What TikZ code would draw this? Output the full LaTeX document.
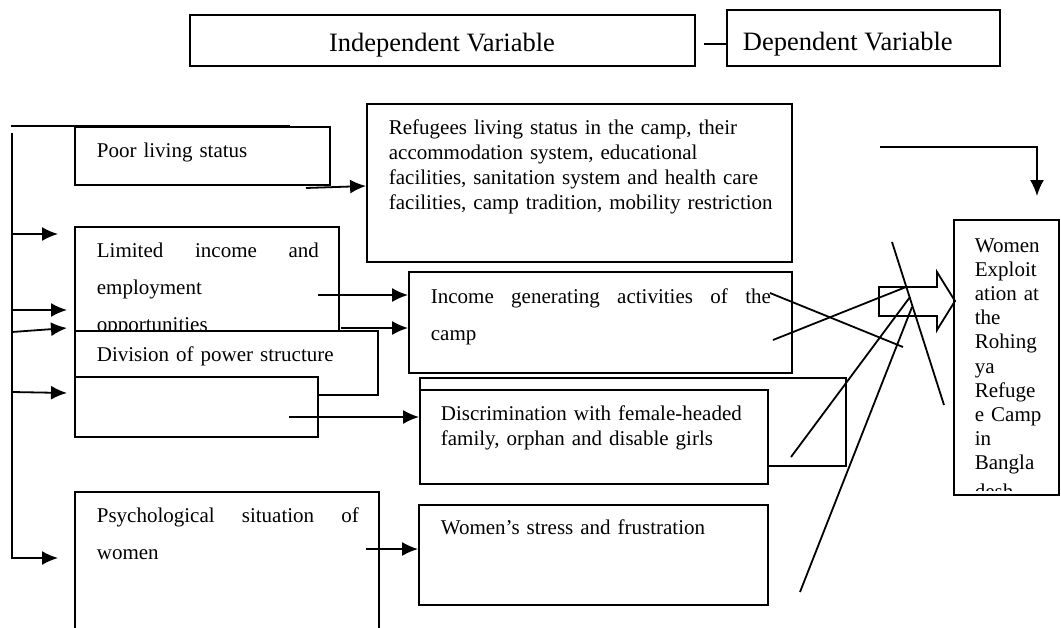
\documentclass[tikz,border=0pt]{standalone}
\usepackage{fontspec}
\setmainfont{Liberation Serif}
\usetikzlibrary{arrows.meta,fit}

\begin{document}
\begin{tikzpicture}[x=1pt,y=-1pt,>={Latex[length=16pt,width=14pt]},line width=1.8pt,
	box/.style={draw,inner sep=0pt},
	wbox/.style={box,fill=white},
	txt/.style={inner sep=0pt,anchor=base west,align=left,text width=420pt,font=\fontsize{21}{25}\selectfont},
	widetxt/.style={txt,font=\fontsize{21}{37}\selectfont},
	headtxt/.style={inner sep=0pt,font=\fontsize{26.5}{30}\selectfont}]
	\useasboundingbox (0,0) rectangle (1061,627);
	\clip (0,0) rectangle (1061,627);
%	header
	\node [box,fit={(190,15) (695,66)}] (indep) {};
	\node [headtxt,anchor=base] (indeplabel) at (442,51) {Independent Variable};
	\node [box,fit={(727,10) (1000,66)}] (dep) {};
	\node [headtxt,anchor=base west] (deplabel) at (742,50) {Dependent Variable};
	\draw (704,44) coordinate (headgap) -- (dep.west |- headgap);
%	left column
	\node [box,fit={(75,127) (330,185)}] (poor) {};
	\node [txt] (poorlabel) at (96,157) {Poor living status};
	\node [box,fit={(75,227) (339,331)}] (limited) {};
	\node [widetxt] (limitedlabel) at (96,257) {\hbox to 222pt{Limited\hfill income\hfill and}\\employment\\opportunities};
	\node [wbox,fit={(75,331) (378,395)}] (division) {};
	\node [txt] (divisionlabel) at (96,361) {Division of power structure};
	\node [wbox,fit={(75,377) (318,437)}] (blank) {};
	\node [box,fit={(75,492) (379,660)}] (psych) {};
	\node [widetxt] (psychlabel) at (96,522) {\hbox to 262pt{Psychological\hfill situation\hfill of}\\women};
%	middle column
	\node [box,fit={(367,104) (792,262)}] (refugee) {};
	\node [txt] (refugeelabel) at (388,134) {Refugees living status in the camp, their\\accommodation system, educational\\facilities, sanitation system and health care\\facilities, camp tradition, mobility restriction};
	\node [box,fit={(409,272) (792,373)}] (income) {};
	\node [widetxt] (incomelabel) at (430,303) {\hbox to 340pt{Income\hfill generating\hfill activities\hfill of\hfill the}\\camp};
	\node [box,fit={(420,378) (846,466)}] (discrimback) {};
	\node [wbox,fit={(420,390) (768,484)}] (discrim) {};
	\node [txt] (discrimlabel) at (440,420) {Discrimination with female-headed\\family, orphan and disable girls};
	\node [box,fit={(419,505) (768,605)}] (stress) {};
	\node [txt] (stresslabel) at (440,534) {Women’s stress and frustration};
%	dependent box
	\node [box,fit={(954,220) (1059,495)}] (women) {};
	\begin{scope}
		\clip (954,220) rectangle (1059,490);
		\node [txt,text width=80pt,font=\fontsize{21}{24.2}\selectfont] (womenlabel) at (974,252) {Women\\Exploit\\ation at\\the\\Rohing\\ya\\Refuge\\e Camp\\in\\Bangla\\[4pt]desh};
	\end{scope}
%	arrows
	\draw (11,126) -- (290,126);
	\draw [->] (12,133) coordinate (spine) |- (58,558);
	\draw [->] (12,234) -- (58,234);
	\draw [->] (12,310) -- (67,310);
	\draw [->] (12,332) -- (67,328);
	\draw [->] (12,392) -- (67,393);
	\draw [->] (306,188) coordinate (poorout) -- (refugee.west |- 0,186);
	\draw [->] (318,295) coordinate (limouta) -- (income.west |- limouta);
	\draw [->] (341,328) coordinate (limoutb) -- (income.west |- limoutb);
	\draw [->] (289,417) coordinate (blankout) -- (discrim.west |- blankout);
	\draw [->] (366,549) coordinate (psychout) -- (stress.west |- psychout);
	\draw [->] (880,147) -| (1037,196);
	\draw (879,287) -- (937,287) -- (937,272) -- (955,301) -- (937,330) -- (937,316) -- (879,316) -- cycle;
	\draw (770,293) -- (903,347);
	\draw (773,340) -- (906,287);
	\draw (892,242) -- (944,405);
	\draw (791,457) -- (910,297);
	\draw (800,592) -- (912,307);
\end{tikzpicture}
\end{document}
